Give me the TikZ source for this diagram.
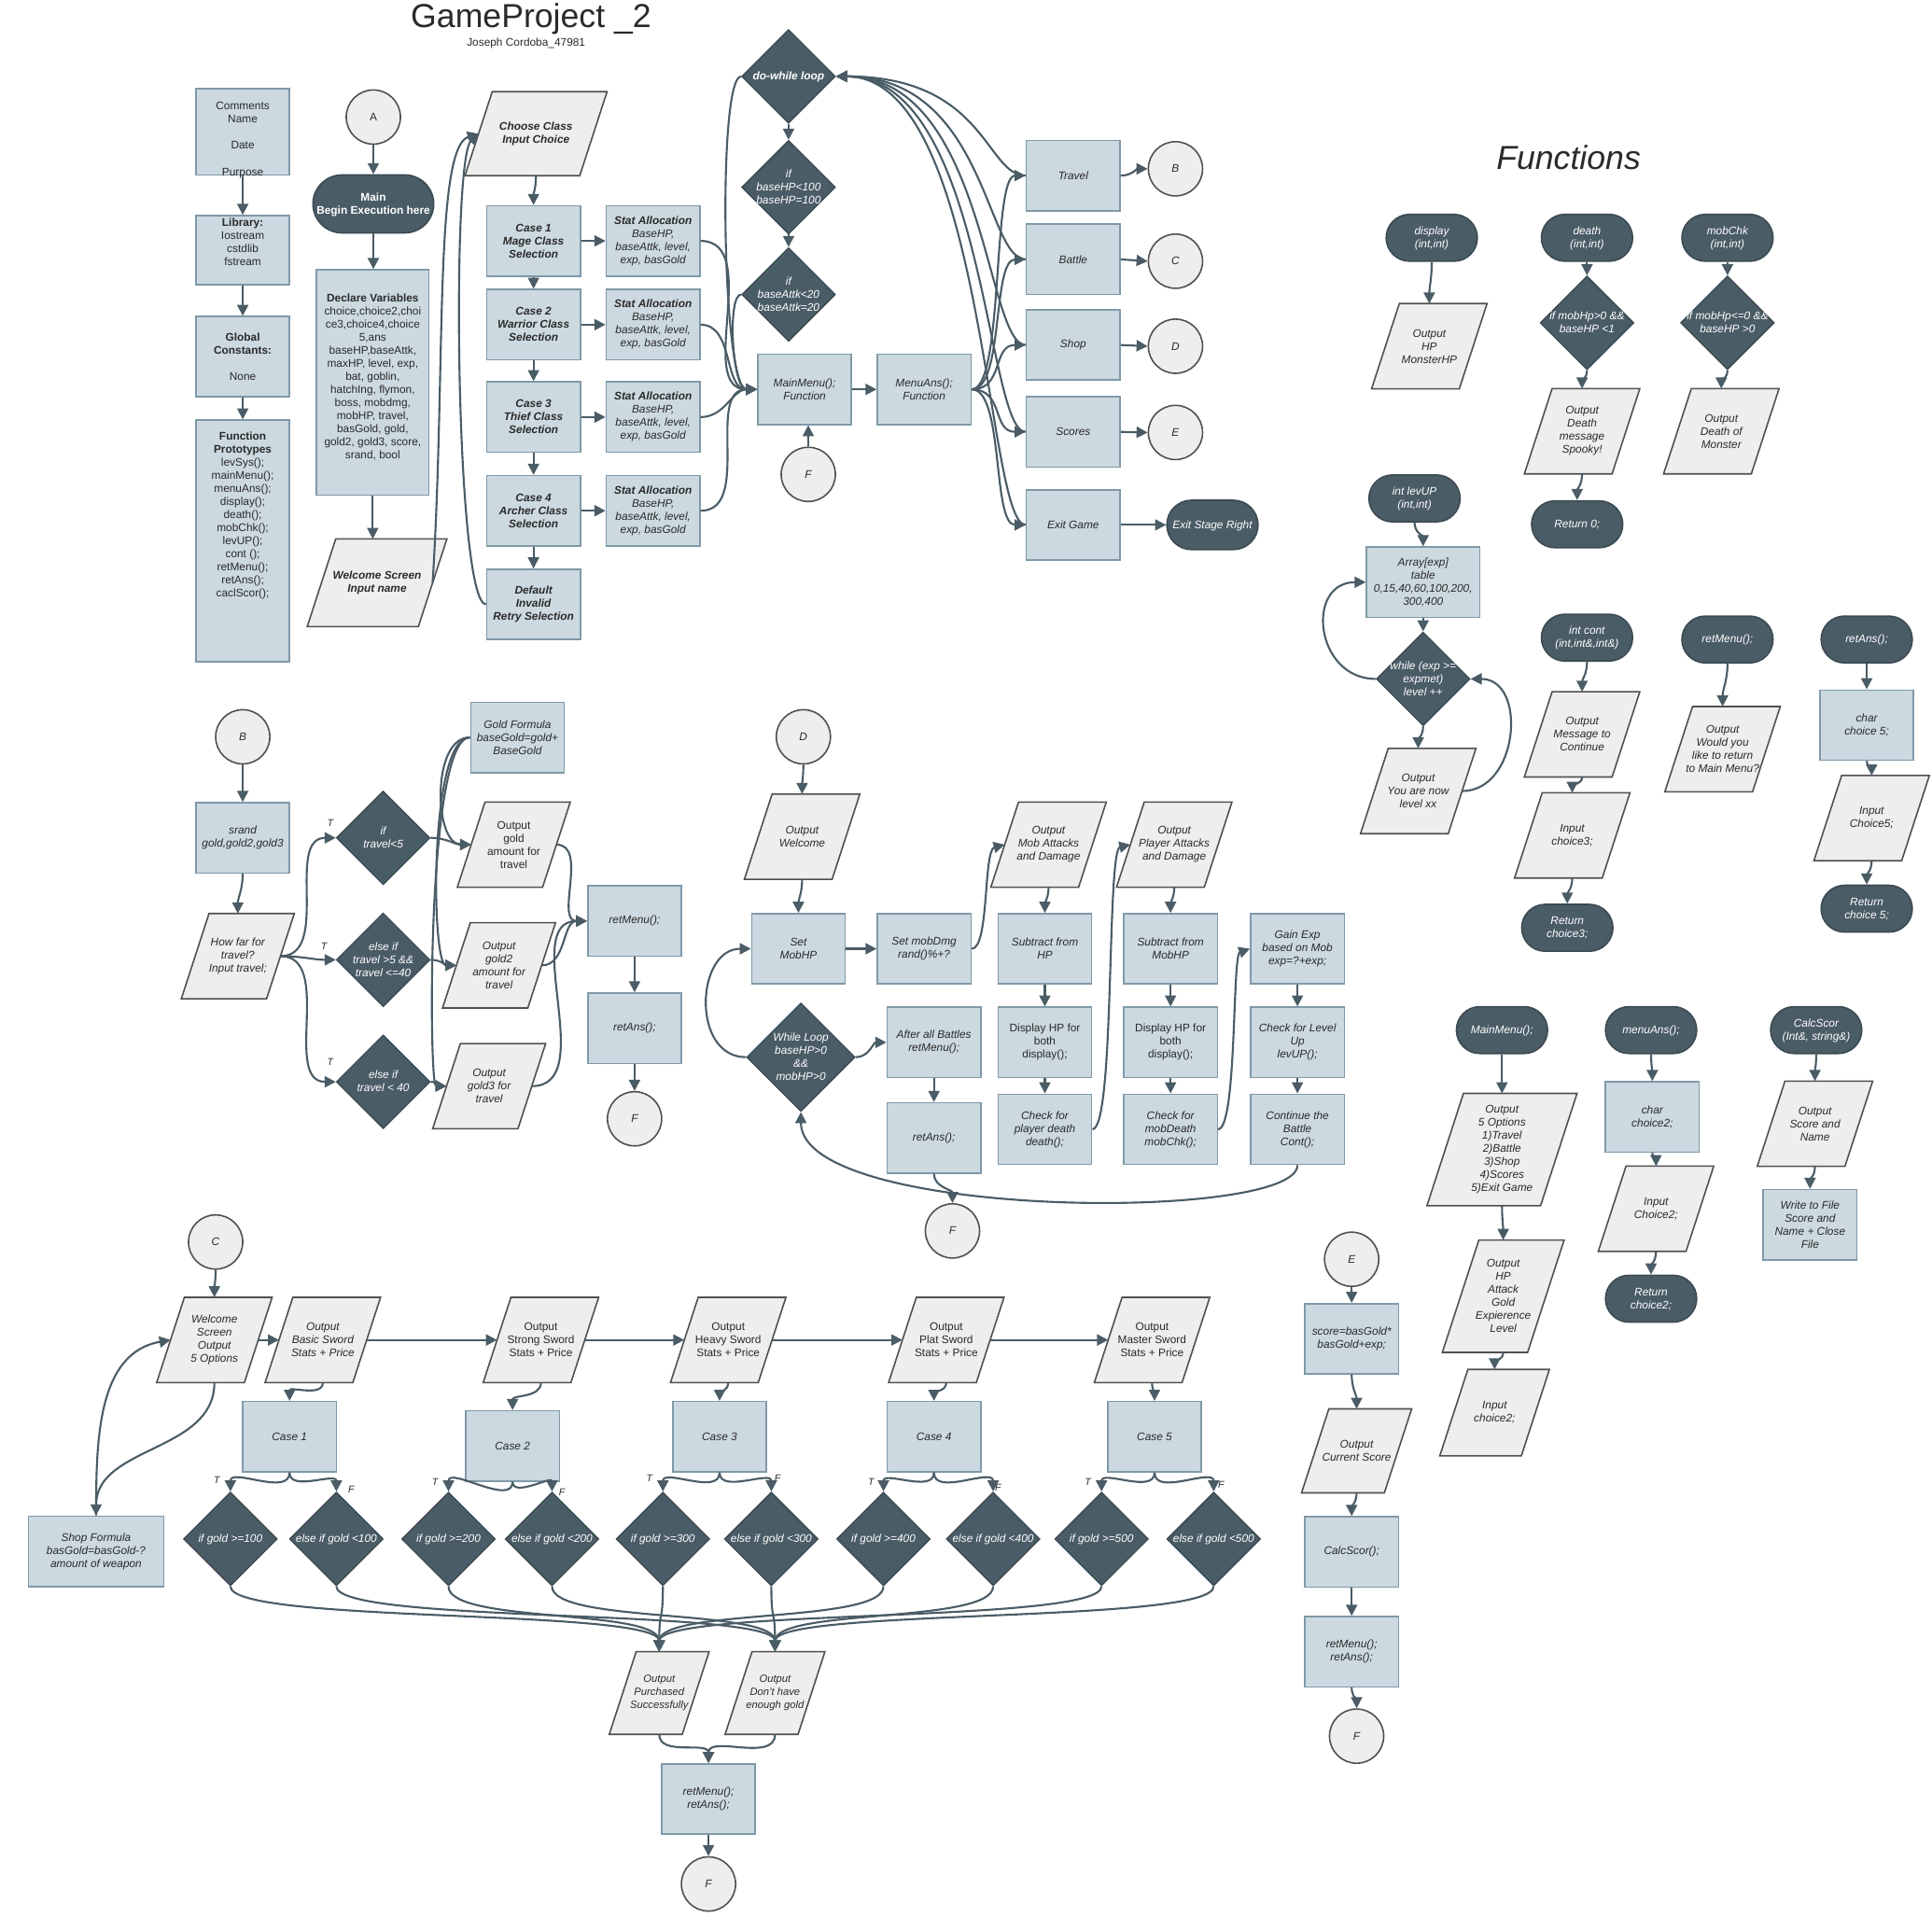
\documentclass[tikz,border=0pt]{standalone}
\usepackage{fontspec}
\setmainfont{Liberation Sans}
\usetikzlibrary{shapes.geometric,shapes.misc,arrows.meta}
\definecolor{dk}{HTML}{4A5C66}
\definecolor{dkb}{HTML}{3C4A52}
\definecolor{bxf}{HTML}{CCD9E0}
\definecolor{bxd}{HTML}{7F99A8}
\definecolor{iof}{HTML}{EEEEEE}
\definecolor{iod}{HTML}{505050}
\definecolor{txt}{HTML}{2A2A2A}
\makeatletter
\pgfdeclareshape{para}{
  \inheritsavedanchors[from=rectangle]
  \inheritanchorborder[from=rectangle]
  \inheritanchor[from=rectangle]{center}
  \inheritanchor[from=rectangle]{north}
  \inheritanchor[from=rectangle]{south}
  \inheritanchor[from=rectangle]{east}
  \inheritanchor[from=rectangle]{west}
  \inheritanchor[from=rectangle]{north east}
  \inheritanchor[from=rectangle]{north west}
  \inheritanchor[from=rectangle]{south east}
  \inheritanchor[from=rectangle]{south west}
  \inheritanchor[from=rectangle]{text}
  \inheritanchor[from=rectangle]{base}
  \inheritanchor[from=rectangle]{mid}
  \backgroundpath{%
    \southwest \pgf@xa=\pgf@x \pgf@ya=\pgf@y
    \northeast \pgf@xb=\pgf@x \pgf@yb=\pgf@y
    \pgf@xc=\pgf@yb \advance\pgf@xc by -\pgf@ya \pgf@xc=0.1625\pgf@xc
    \pgf@yc=\pgf@xa \advance\pgf@yc by -\pgf@xc \edef\paraA{\the\pgf@yc}%
    \pgf@yc=\pgf@xb \advance\pgf@yc by -\pgf@xc \edef\paraB{\the\pgf@yc}%
    \pgf@yc=\pgf@xb \advance\pgf@yc by \pgf@xc \edef\paraC{\the\pgf@yc}%
    \pgf@yc=\pgf@xa \advance\pgf@yc by \pgf@xc \edef\paraD{\the\pgf@yc}%
    \edef\paraY{\the\pgf@ya}\edef\paraZ{\the\pgf@yb}%
    \pgfpathmoveto{\pgfqpoint{\paraA}{\paraY}}%
    \pgfpathlineto{\pgfqpoint{\paraB}{\paraY}}%
    \pgfpathlineto{\pgfqpoint{\paraC}{\paraZ}}%
    \pgfpathlineto{\pgfqpoint{\paraD}{\paraZ}}%
    \pgfpathclose
  }
}
\makeatother
\newcommand\fs{\fontsize{9}{10.6}\selectfont}
\newcommand\zt[2][0pt]{\makebox[0pt]{\smash{\raisebox{\dimexpr#1-3pt\relax}{\begin{tabular}{@{}c@{}}#2\end{tabular}}}}}
\tikzset{
  base/.style={font=\fs\itshape, align=center, inner sep=1pt, text=txt},
  box/.style={base, rectangle, fill=bxf, draw=bxd, line width=1.2pt, minimum width=76pt, minimum height=57pt},
  io/.style={base, shape=para, fill=iof, draw=iod, line width=1.2pt, minimum width=70pt, minimum height=68pt},
  term/.style={base, rounded rectangle, fill=dk, draw=dkb, line width=1.2pt, text=white, minimum width=76pt, minimum height=38pt},
  dia/.style={base, diamond, fill=dk, draw=dkb, line width=1pt, text=white, minimum width=76pt, minimum height=76pt, inner sep=0pt},
  conn/.style={base, circle, fill=iof, draw=iod, line width=1.2pt, minimum size=44pt, inner sep=0pt},
  arr/.style={draw=dk, line width=1.6pt, -{Triangle[length=9pt,width=9pt]}},
  vv/.style={out=-90,in=90},
  tf/.style={font=\fontsize{8}{9}\selectfont\itshape, text=txt, inner sep=0pt},
}
\begin{document}
\begin{tikzpicture}[x=1pt,y=1pt]
\fill[white] (0,0) rectangle (1568,-1568);
\useasboundingbox (0,0) rectangle (1568,-1568);

% titles
\node[font=\fontsize{27}{30}\selectfont, text=txt, inner sep=0pt] (title) at (431,-15) {GameProject \_2};
\node[font=\fontsize{9}{10}\selectfont, text=txt, inner sep=0pt] (author) at (427,-35) {Joseph Cordoba\_47981};
\node[font=\fontsize{27}{30}\selectfont\itshape, text=txt, inner sep=0pt] (ftitle) at (1273,-128) {Functions};

% ---------- top left
\node[box, font=\fs, minimum height=70pt] (com) at (197,-107) {\zt[-6pt]{Comments\\Name\\[11pt]Date\\[11pt]Purpose}};
\node[box, font=\fs, minimum height=56pt] (lib) at (197,-203) {\zt[6pt]{\textbf{Library:}\\Iostream\\cstdlib\\fstream}};
\node[box, font=\fs, minimum height=65pt] (glob) at (197,-289.5) {\textbf{Global}\\\textbf{Constants:}\\[11pt]None};
\node[box, font=\fs, minimum height=196pt] (proto) at (197,-439) {\zt[21pt]{\textbf{Function}\\\textbf{Prototypes}\\levSys();\\mainMenu();\\menuAns();\\display();\\death();\\mobChk();\\levUP();\\cont ();\\retMenu();\\retAns();\\caclScor();}};

\node[conn, font=\fs] (A) at (303,-95) {A};
\node[term, font=\fs\bfseries, minimum width=100pt, minimum height=47pt] (main) at (303,-165.5) {\zt{Main\\Begin Execution here}};
\node[box, font=\fs, minimum width=91pt, minimum height=183pt] (decl) at (302.5,-310.5) {\zt[5pt]{\textbf{Declare Variables}\\choice,choice2,choi\\ce3,choice4,choice\\5,ans\\baseHP,baseAttk,\\maxHP, level, exp,\\bat, goblin,\\hatchIng, flymon,\\boss, mobdmg,\\mobHP, travel,\\basGold, gold,\\gold2, gold3, score,\\srand, bool}};
\node[io, font=\fs\bfseries\itshape, minimum width=89pt, minimum height=70pt] (welc) at (306,-473) {Welcome Screen\\Input name};

\node[io, font=\fs\bfseries\itshape, minimum width=92pt, minimum height=67pt] (choose) at (435,-108.5) {Choose Class\\Input Choice};
\node[box, font=\fs\bfseries\itshape] (cs1) at (433,-195.5) {Case 1\\Mage Class\\Selection};
\node[box, font=\fs\bfseries\itshape] (cs2) at (433,-263.5) {Case 2\\Warrior Class\\Selection};
\node[box, font=\fs\bfseries\itshape] (cs3) at (433,-338.5) {Case 3\\Thief Class\\Selection};
\node[box, font=\fs\bfseries\itshape] (cs4) at (433,-414.5) {Case 4\\Archer Class\\Selection};
\node[box, font=\fs\bfseries\itshape] (dflt) at (433,-490.5) {Default\\Invalid\\Retry Selection};
\foreach \i/\y in {1/195.5,2/263.5,3/338.5,4/414.5}
  \node[box] (st\i) at (530,-\y) {\textbf{Stat Allocation}\\BaseHP,\\baseAttk, level,\\exp, basGold};

\node[dia] (dw) at (640,-62) {\zt{\bfseries do-while loop}};
\node[dia] (if1) at (640,-152) {\zt{if\\baseHP<100\\baseHP=100}};
\node[dia] (if2) at (640,-239) {\zt{if\\baseAttk<20\\baseAttk=20}};
\node[box] (mm) at (653,-316) {MainMenu();\\Function};
\node[box] (ma) at (750,-316) {MenuAns();\\Function};
\node[conn] (F1) at (656,-385) {F};

\node[box] (trav) at (871,-142.5) {Travel};
\node[box] (batt) at (871,-210.5) {Battle};
\node[box] (shop) at (871,-280) {Shop};
\node[box] (scor) at (871,-350.5) {Scores};
\node[box] (exitg) at (871,-426) {Exit Game};
\node[conn] (B0) at (954,-137) {B};
\node[conn] (C0) at (954,-212) {C};
\node[conn] (D0) at (954,-281) {D};
\node[conn] (E0) at (954,-351) {E};
\node[term, minimum height=40pt] (esr) at (984,-426) {\zt{Exit Stage Right}};

% ---------- functions
\node[term] (disp) at (1162,-193) {\zt{display\\(int,int)}};
\node[io] (outHP) at (1160,-281) {Output\\HP\\MonsterHP};
\node[term] (death) at (1288,-193) {\zt{death\\(int,int)}};
\node[dia] (dd) at (1288,-262) {\zt{if mobHp>0 \&\&\\baseHP <1}};
\node[io] (outD) at (1284,-350) {Output\\Death\\message\\Spooky!};
\node[term] (ret0) at (1280,-425.5) {\zt{Return 0;}};
\node[term] (mobc) at (1402,-193) {\zt{mobChk\\(int,int)}};
\node[dia] (md) at (1402,-262) {\zt{if mobHp<=0 \&\&\\baseHP >0}};
\node[io] (outM) at (1397,-350) {Output\\Death of\\Monster};

\node[term] (levup) at (1148,-404.5) {\zt{int levUP\\(int,int)}};
\node[box, minimum width=92pt] (arrx) at (1155,-472.5) {Array[exp]\\table\\0,15,40,60,100,200,\\300,400};
\node[dia] (wh) at (1155,-551) {\zt{while (exp >=\\expmet)\\level ++}};
\node[io] (outL) at (1151,-642) {Output\\You are now\\level xx};

\node[term] (cont) at (1288,-517.5) {\zt{int cont\\(int,int\&,int\&)}};
\node[io] (outMsg) at (1284,-596) {Output\\Message to\\Continue};
\node[io] (inC3) at (1276,-678) {Input\\choice3;};
\node[term] (ret3) at (1272,-753) {\zt{Return\\choice3;}};
\node[term] (rmT) at (1402,-519) {\zt{retMenu();}};
\node[io] (outR) at (1398,-608) {Output\\Would you\\like to return\\to Main Menu?};
\node[term] (raT) at (1515,-519) {\zt{retAns();}};
\node[box] (ch5) at (1515,-588.5) {char\\choice 5;};
\node[io] (in5) at (1519,-664) {Input\\Choice5;};
\node[term] (ret5) at (1515,-737.5) {\zt{Return\\choice 5;}};

\node[term] (mmT) at (1219,-836) {\zt{MainMenu();}};
\node[io, minimum width=91pt, minimum height=90pt] (out5) at (1219,-933) {Output\\5 Options\\1)Travel\\2)Battle\\3)Shop\\4)Scores\\5)Exit Game};
\node[io, minimum width=68pt, minimum height=90pt] (outHPA) at (1220,-1052) {Output\\HP\\Attack\\Gold\\Expierence\\Level};
\node[io, minimum width=65pt, minimum height=69pt] (inC2) at (1213,-1146.5) {Input\\choice2;};
\node[term] (maT) at (1340,-836) {\zt{menuAns();}};
\node[box] (ch2) at (1341,-906.5) {char\\choice2;};
\node[io] (inCh2) at (1344,-981) {Input\\Choice2;};
\node[term] (retc2) at (1340,-1054) {\zt{Return\\choice2;}};
\node[term] (csT) at (1474,-836) {\zt{CalcScor\\(Int\&, string\&)}};
\node[io] (outS) at (1473,-912) {Output\\Score and\\Name};
\node[box] (wr) at (1469,-994) {Write to File\\Score and\\Name + Close\\File};

% ---------- E section
\node[conn] (E1) at (1097,-1022) {E};
\node[box] (sc) at (1097,-1086.5) {score=basGold*\\basGold+exp;};
\node[io, minimum width=66pt, minimum height=67pt] (oc) at (1101,-1177.5) {Output\\Current Score};
\node[box] (cs) at (1097,-1259.5) {CalcScor();};
\node[box] (rrE) at (1097,-1340.5) {retMenu();\\retAns();};
\node[conn] (F5) at (1101,-1409) {F};

% ---------- B section
\node[conn] (B1) at (197,-598) {B};
\node[box] (srand) at (197,-680) {srand\\gold,gold2,gold3};
\node[io, minimum width=68pt] (hf) at (193,-776) {How far for\\travel?\\Input travel;};
\node[dia] (t1) at (311,-680) {\zt{if\\travel<5}};
\node[dia] (t2) at (311,-779) {\zt{else if\\travel >5 \&\&\\travel <=40}};
\node[dia] (t3) at (311,-878) {\zt{else if\\travel < 40}};
\node[box] (gf) at (420,-598.5) {Gold Formula\\baseGold=gold+\\BaseGold};
\node[io, minimum width=68pt, font=\fs] (o1) at (417,-685.5) {Output\\gold\\amount for\\travel};
\node[io, minimum width=68pt] (o2) at (405,-783.5) {Output\\gold2\\amount for\\travel};
\node[io, minimum width=68pt] (o3) at (397,-881.5) {Output\\gold3 for\\travel};
\node[box] (rmB) at (515,-747.5) {retMenu();};
\node[box] (raB) at (515,-834.5) {retAns();};
\node[conn] (F2) at (515,-908) {F};
\node[tf] (lt1) at (268,-668) {T};
\node[tf] (lt2) at (263,-768) {T};
\node[tf] (lt3) at (268,-862) {T};

% ---------- D section
\node[conn] (D1) at (652,-598) {D};
\node[io] (ow) at (651,-679) {Output\\Welcome};
\node[box] (smh) at (648,-770) {Set\\MobHP};
\node[box] (smd) at (750,-770) {Set mobDmg\\rand()\%+?};
\node[io] (oma) at (851,-685.5) {Output\\Mob Attacks\\and Damage};
\node[box] (shp) at (848,-770) {Subtract from\\HP};
\node[box, font=\fs] (dh1) at (848,-846) {Display HP for\\both\\display();};
\node[box] (cpd) at (848,-916.5) {Check for\\player death\\death();};
\node[io] (opa) at (953,-685.5) {Output\\Player Attacks\\and Damage};
\node[box] (smhp) at (950,-770) {Subtract from\\MobHP};
\node[box, font=\fs] (dh2) at (950,-846) {Display HP for\\both\\display();};
\node[box] (cmd) at (950,-916.5) {Check for\\mobDeath\\mobChk();};
\node[box] (ge) at (1053,-770) {Gain Exp\\based on Mob\\exp=?+exp;};
\node[box] (cl) at (1053,-846) {Check for Level\\Up\\levUP();};
\node[box] (cb) at (1053,-916.5) {Continue the\\Battle\\Cont();};
\node[dia, minimum width=88pt, minimum height=88pt] (wl) at (650,-858) {\zt{While Loop\\baseHP>0\\\&\&\\mobHP>0}};
\node[box] (ab) at (758,-846) {After all Battles\\retMenu();};
\node[box] (ra2) at (758,-923.5) {retAns();};
\node[conn] (F3) at (773,-999) {F};

% ---------- C section
\node[conn] (C1) at (175,-1008) {C};
\node[io] (ws) at (174,-1087.5) {Welcome\\Screen\\Output\\5 Options};
\node[io] (bs) at (262,-1087.5) {Output\\Basic Sword\\Stats + Price};
\node[io, font=\fs] (ss) at (439,-1087.5) {Output\\Strong Sword\\Stats + Price};
\node[io, font=\fs] (hs) at (591,-1087.5) {Output\\Heavy Sword\\Stats + Price};
\node[io, font=\fs] (ps) at (768,-1087.5) {Output\\Plat Sword\\Stats + Price};
\node[io, font=\fs] (ms) at (935,-1087.5) {Output\\Master Sword\\Stats + Price};
\node[box] (c1) at (235,-1166) {Case 1};
\node[box] (c2) at (416,-1173.5) {Case 2};
\node[box] (c3) at (584,-1166) {Case 3};
\node[box] (c4) at (758,-1166) {Case 4};
\node[box] (c5) at (937,-1166) {Case 5};
\foreach \n/\x/\t in {g1t/187/if gold >=100, g1f/273/else if gold <100, g2t/364/if gold >=200, g2f/448/else if gold <200, g3t/538/if gold >=300, g3f/626/else if gold <300, g4t/717/if gold >=400, g4f/806/else if gold <400, g5t/894/if gold >=500, g5f/985/else if gold <500}
  \node[dia] (\n) at (\x,-1249) {\zt{\t}};
\foreach \n/\x/\y/\t in {l1t/176/1201/T, l1f/285/1209/F, l2t/353/1203/T, l2f/456/1211/F, l3t/527/1200/T, l3f/631/1200/F, l4t/707/1203/T, l4f/810/1207/F, l5t/883/1203/T, l5f/991/1205/F}
  \node[tf] (\n) at (\x,-\y) {\t};
\node[box, minimum width=110pt] (sf) at (78,-1259) {Shop Formula\\basGold=basGold-?\\amount of weapon};
\node[io, minimum width=58pt, minimum height=66pt, font=\fontsize{8.5}{10.4}\selectfont\itshape] (pur) at (535,-1374) {Output\\Purchased\\Successfully};
\node[io, minimum width=58pt, minimum height=66pt, font=\fontsize{8.5}{10.4}\selectfont\itshape] (dont) at (629,-1374) {Output\\Don't have\\enough gold};
\node[box] (rrC) at (575,-1460) {retMenu();\\retAns();};
\node[conn] (F4) at (575,-1529) {F};

% ================= connectors
\draw[arr] (com.south) -- (lib.north);
\draw[arr] (lib.south) -- (glob.north);
\draw[arr] (glob.south) -- (proto.north);
\draw[arr] (A.south) -- (main.north);
\draw[arr] (main.south) -- (main.south |- decl.north);
\draw[arr] (decl.south) -- (decl.south |- welc.north);
\draw[arr] (welc.east) .. controls (362,-300) and (352,-120) .. (choose.west);
\draw[arr] (dflt.west) .. controls (370,-490) and (366,-130) .. (choose.west);
\draw[arr] (choose.south) to[vv] (cs1.north);
\draw[arr] (cs1.south) -- (cs2.north);
\draw[arr] (cs2.south) -- (cs3.north);
\draw[arr] (cs3.south) -- (cs4.north);
\draw[arr] (cs4.south) -- (dflt.north);
\foreach \i in {1,2,3,4} {
  \draw[arr] (cs\i.east) -- (st\i.west);
  \draw[arr] (st\i.east) to[out=0,in=180] (mm.west);
}
\draw[arr] (dw.west) .. controls (582,-62) and (586,-316) .. (mm.west);
\draw[arr] (if2.west) .. controls (590,-239) and (594,-316) .. (mm.west);
\draw[arr] (dw.south) -- (if1.north);
\draw[arr] (if1.south) -- (if2.north);
\draw[arr] (F1.north) -- (F1.north |- mm.south);
\draw[arr] (mm.east) -- (ma.west);
\foreach \n/\y in {trav/142.5,batt/210.5,shop/280,scor/350.5,exitg/426} {
  \draw[arr] (ma.east) .. controls (815,-316) and (805,-\y) .. (\n.west);
  \draw[arr] (\n.west) .. controls (800,-\y) and (800,-62) .. (dw.east);
}
\draw[arr] (trav.east) to[out=0,in=180] (B0.west);
\draw[arr] (batt.east) -- (C0.west);
\draw[arr] (shop.east) -- (D0.west);
\draw[arr] (scor.east) -- (E0.west);
\draw[arr] (exitg.east) -- (esr.west);

% functions
\draw[arr] (disp.south) to[vv] (outHP.north);
\draw[arr] (death.south) -- (dd.north);
\draw[arr] (dd.south) to[vv] (outD.north);
\draw[arr] (outD.south) to[vv] (ret0.north);
\draw[arr] (mobc.south) -- (md.north);
\draw[arr] (md.south) to[vv] (outM.north);
\draw[arr] (levup.south) to[vv] (arrx.north);
\draw[arr] (arrx.south) -- (wh.north);
\draw[arr] (wh.south) to[vv] (outL.north);
\draw[arr] (wh.west) to[out=180,in=180,looseness=1.6] (arrx.west);
\draw[arr] (outL.east) to[out=0,in=0,looseness=1.3] (wh.east);
\draw[arr] (cont.south) to[vv] (outMsg.north);
\draw[arr] (outMsg.south) to[vv] (inC3.north);
\draw[arr] (inC3.south) to[vv] (ret3.north);
\draw[arr] (rmT.south) to[vv] (outR.north);
\draw[arr] (raT.south) -- (ch5.north);
\draw[arr] (ch5.south) to[vv] (in5.north);
\draw[arr] (in5.south) to[vv] (ret5.north);
\draw[arr] (mmT.south) to[vv] (out5.north);
\draw[arr] (out5.south) to[vv] (outHPA.north);
\draw[arr] (outHPA.south) to[vv] (inC2.north);
\draw[arr] (maT.south) to[vv] (ch2.north);
\draw[arr] (ch2.south) to[vv] (inCh2.north);
\draw[arr] (inCh2.south) to[vv] (retc2.north);
\draw[arr] (csT.south) to[vv] (outS.north);
\draw[arr] (outS.south) to[vv] (wr.north);

% E
\draw[arr] (E1.south) -- (sc.north);
\draw[arr] (sc.south) to[vv] (oc.north);
\draw[arr] (oc.south) to[vv] (cs.north);
\draw[arr] (cs.south) -- (rrE.north);
\draw[arr] (rrE.south) to[vv] (F5.north);

% B
\draw[arr] (B1.south) -- (srand.north);
\draw[arr] (srand.south) to[vv] (hf.north);
\draw[arr] (hf.east) to[out=0,in=180] (t1.west);
\draw[arr] (hf.east) to[out=0,in=180] (t2.west);
\draw[arr] (hf.east) to[out=0,in=180] (t3.west);
\draw[arr] (t1.east) to[out=0,in=180] (o1.west);
\draw[arr] (t2.east) to[out=0,in=180] (o2.west);
\draw[arr] (t3.east) to[out=0,in=180] (o3.west);
\draw[arr] (gf.west) .. controls (350,-598) and (352,-685) .. (o1.west);
\draw[arr] (gf.west) .. controls (348,-598) and (350,-783) .. (o2.west);
\draw[arr] (gf.west) .. controls (346,-598) and (348,-881) .. (o3.west);
\draw[arr] (o1.east) to[out=0,in=180] (rmB.west);
\draw[arr] (o2.east) to[out=0,in=180] (rmB.west);
\draw[arr] (o3.east) to[out=0,in=180] (rmB.west);
\draw[arr] (rmB.south) -- (raB.north);
\draw[arr] (raB.south) -- (F2.north);

% D
\draw[arr] (D1.south) to[vv] (ow.north);
\draw[arr] (ow.south) to[vv] (smh.north);
\draw[arr] (smh.east) -- (smd.west);
\draw[arr] (smd.east) .. controls (803,-770) and (798,-690) .. (oma.west);
\draw[arr] (oma.south) to[vv] (shp.north);
\draw[arr] (shp.south) -- (dh1.north);
\draw[arr] (dh1.south) -- (cpd.north);
\draw[arr] (cpd.east) .. controls (905,-916) and (898,-690) .. (opa.west);
\draw[arr] (opa.south) to[vv] (smhp.north);
\draw[arr] (smhp.south) -- (dh2.north);
\draw[arr] (dh2.south) -- (cmd.north);
\draw[arr] (cmd.east) .. controls (1004,-916) and (1000,-775) .. (ge.west);
\draw[arr] (ge.south) -- (cl.north);
\draw[arr] (cl.south) -- (cb.north);
\draw[arr] (cb.south) .. controls (1053,-992) and (650,-990) .. (wl.south);
\draw[arr] (wl.west) to[out=180,in=180,looseness=1.3] (smh.west);
\draw[arr] (wl.east) to[out=0,in=180] (ab.west);
\draw[arr] (ab.south) -- (ra2.north);
\draw[arr] (ra2.south) to[vv] (F3.north);

% C
\draw[arr] (C1.south) to[vv] (ws.north);
\draw[arr] (ws.east) -- (bs.west);
\draw[arr] (bs.east) -- (ss.west);
\draw[arr] (ss.east) -- (hs.west);
\draw[arr] (hs.east) -- (ps.west);
\draw[arr] (ps.east) -- (ms.west);
\draw[arr] (ws.south) to[vv] (sf.north);
\draw[arr] (sf.north) to[out=90,in=190] (ws.west);
\foreach \s/\c in {bs/c1,ss/c2,hs/c3,ps/c4,ms/c5}
  \draw[arr] (\s.south) to[vv] (\c.north);
\foreach \c/\t/\f in {c1/g1t/g1f,c2/g2t/g2f,c3/g3t/g3f,c4/g4t/g4f,c5/g5t/g5f} {
  \draw[arr] (\c.south) to[vv] (\t.north);
  \draw[arr] (\c.south) to[vv] (\f.north);
}
\foreach \d/\x in {g1t/187,g2t/364,g3t/538,g4t/717,g5t/894}
  \draw[arr] (\d.south) .. controls (\x,-1318) and (535,-1305) .. (pur.north);
\foreach \d/\x in {g1f/273,g2f/448,g3f/626,g4f/806,g5f/985}
  \draw[arr] (\d.south) .. controls (\x,-1318) and (629,-1305) .. (dont.north);
\draw[arr] (pur.south) to[vv] (rrC.north);
\draw[arr] (dont.south) to[vv] (rrC.north);
\draw[arr] (rrC.south) -- (F4.north);
\end{tikzpicture}
\end{document}
